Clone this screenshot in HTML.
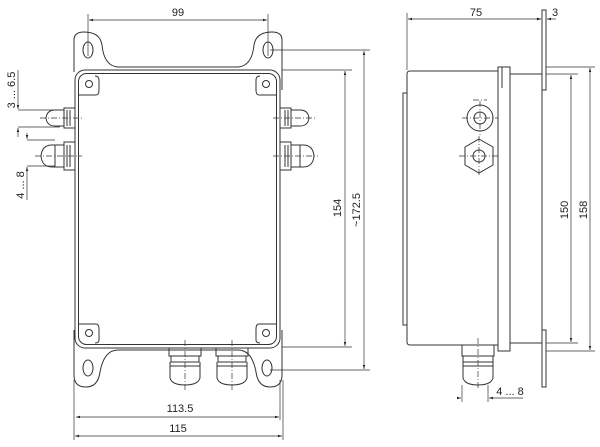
<!DOCTYPE html>
<html><head><meta charset="utf-8"><style>
html,body{margin:0;padding:0;background:#fff;}
svg{display:block;font-family:"Liberation Sans",Arial,sans-serif;}
text{font-size:11px;fill:#222;}
</style></head><body>
<svg width="600" height="447" viewBox="0 0 600 447" xmlns="http://www.w3.org/2000/svg">
<defs>
<marker id="a" viewBox="0 0 10 10" refX="10" refY="5" markerWidth="6" markerHeight="6" orient="auto-start-reverse"><path d="M0,2 L10,5 L0,8 z" fill="#222"/></marker>
</defs>
<g stroke="#333" fill="none" stroke-width="1">
<!-- FRONT VIEW -->
<!-- top bracket -->
<path d="M74,72 L74,40 Q74,32 84,32 Q100,32 102,45 Q104,66 118,67 L238,67 Q252,66 254,45 Q256,32 272,32 Q282,32 282,40 L282,90"/>
<ellipse cx="88" cy="50" rx="5" ry="8"/>
<ellipse cx="268" cy="50" rx="5" ry="8"/>
<!-- bottom bracket -->
<path d="M74,330 L74,375 Q74,387 86,387 Q98,387 100,372 Q104,350 118,350 L238,350 Q252,350 256,372 Q258,387 270,387 Q282,387 282,375 L282,330"/>
<ellipse cx="88" cy="368" rx="5" ry="8"/>
<ellipse cx="267" cy="368" rx="5" ry="8"/>
<!-- box -->
<rect x="75" y="70" width="205" height="278" rx="10"/>
<rect x="78.5" y="73.5" width="198" height="271" rx="8"/>
<!-- corner bosses -->
<path d="M79,95 L96,95 Q99,95 99,90 L99,80 Q99,76 95,76"/><circle cx="89" cy="84" r="3.5"/>
<path d="M276,95 L259,95 Q256,95 256,90 L256,80 Q256,76 260,76"/><circle cx="266" cy="84" r="3.5"/>
<path d="M79,324 L96,324 Q99,324 99,329 L99,340 Q99,343 95,343"/><circle cx="89" cy="333" r="3.5"/>
<path d="M276,324 L259,324 Q256,324 256,329 L256,340 Q256,343 260,343"/><circle cx="266" cy="333" r="3.5"/>
<!-- left glands -->
<path d="M75,108 L64,108 L64,128 L75,128 M64,110 L55,110 Q47,110 46,118 Q47,126 55,126 L64,126 M67,110 L67,126 M70,110 L70,126"/>
<path d="M75,142 L64,142 L64,170 L75,170 M64,145 L52,145 Q42,145 41,156 Q42,167 52,167 L64,167 M67,145 L67,167 M70,145 L70,167 M55,145 L55,167"/>
<!-- right glands -->
<path d="M280,108 L291,108 L291,128 L280,128 M291,110 L300,110 Q308,110 309,118 Q308,126 300,126 L291,126 M288,110 L288,126 M285,110 L285,126"/>
<path d="M280,142 L291,142 L291,170 L280,170 M291,145 L303,145 Q313,145 314,156 Q313,167 303,167 L291,167 M288,145 L288,167 M285,145 L285,167 M300,145 L300,167"/>
<!-- bottom glands -->
<path d="M169,348 L169,356 L201,356 L201,348 M171,356 L171,362 L199,362 L199,356 M170,362 L170,378 Q172,385 185,385 Q198,385 200,378 L200,362 M170,366 L200,366"/>
<path d="M216,348 L216,356 L248,356 L248,348 M218,356 L218,362 L246,362 L246,356 M217,362 L217,378 Q219,385 232,385 Q245,385 247,378 L247,362 M217,366 L247,366"/>
</g>
<g stroke="#333" stroke-width="0.7" stroke-dasharray="6,2,1,2" fill="none">
<path d="M40,118 L82,118 M35,156 L82,156 M273,118 L315,118 M273,156 L318,156 M185,340 L185,390 M232,340 L232,390"/>
<path d="M473,100 L487,100 M480,101 L480,135 M462,118 L498,118 M459,156 L499,156 M479,136 L479,176 M478,338 L478,390"/>
</g>
<!-- dimension lines -->
<g stroke="#333" stroke-width="0.7" fill="none">
<path d="M88,14 L88,56 M268,14 L268,56"/>
<path d="M89,20 L267,20" marker-start="url(#a)" marker-end="url(#a)"/>
<path d="M270,50 L370,50 M282,70 L352,70 M282,347 L352,347 M270,370 L370,370"/>
<path d="M345,71 L345,346" marker-start="url(#a)" marker-end="url(#a)"/>
<path d="M364,51 L364,369" marker-start="url(#a)" marker-end="url(#a)"/>
<path d="M74,380 L74,440 M280,380 L280,420 M283,380 L283,440"/>
<path d="M76,417 L279,417" marker-start="url(#a)" marker-end="url(#a)"/>
<path d="M75,436 L282,436" marker-start="url(#a)" marker-end="url(#a)"/>
<path d="M18,110 L60,110 M18,127 L60,127"/>
<path d="M18,70 L18,109" marker-end="url(#a)"/>
<path d="M18,137 L18,128" marker-end="url(#a)"/>
<path d="M27,140 L55,140 M27,166 L55,166"/>
<path d="M27,133 L27,139" marker-end="url(#a)"/>
<path d="M27,200 L27,167" marker-end="url(#a)"/>
</g>
<text x="178" y="16" text-anchor="middle">99</text>
<text x="180" y="412" text-anchor="middle">113.5</text>
<text x="178" y="432" text-anchor="middle">115</text>
<text transform="translate(15,90) rotate(-90)" text-anchor="middle">3 ... 6.5</text>
<text transform="translate(24,185) rotate(-90)" text-anchor="middle">4 ... 8</text>
<text transform="translate(341,208) rotate(-90)" text-anchor="middle">154</text>
<text transform="translate(360,210) rotate(-90)" text-anchor="middle">~172.5</text>
<!-- SIDE VIEW -->
<g stroke="#333" stroke-width="1" fill="none">
<path d="M498,71 L410,71 Q407,71 407,74 L407,342 Q407,345 410,345 L498,345"/>
<path d="M407,93 L403,93 L403,325 L407,325"/>
<rect x="498" y="67" width="12" height="284"/>
<path d="M498,67 L498,351 M502,67 L502,88"/>
<path d="M510,74 L542,74 M510,343 L542,343"/>
<rect x="542" y="10" width="4" height="80"/>
<rect x="542" y="330" width="4" height="57"/>
<path d="M542,90 L542,330"/>
<circle cx="480" cy="118" r="13"/><circle cx="480" cy="118" r="6"/>
<path d="M479,139 L493,147 L493,165 L479,173 L465,165 L465,147 Z"/><circle cx="479" cy="156" r="6"/>
<path d="M462,345 L462,356 L494,356 L494,345 M463,356 L463,362 L493,362 L493,356 M463,362 L463,378 Q465,385 478,385 Q491,385 493,378 L493,362 M463,366 L493,366"/>
</g>
<g stroke="#333" stroke-width="0.7" fill="none">
<path d="M407,13 L407,70 M542,13 L542,10 M546,13 L546,10"/>
<path d="M408,19 L541,19" marker-start="url(#a)" marker-end="url(#a)"/>
<path d="M536,19 L541,19" marker-end="url(#a)"/>
<path d="M556,19 L547,19" marker-end="url(#a)"/>
<path d="M546,67 L595,67 M546,74 L578,74 M546,343 L578,343 M546,351 L595,351"/>
<path d="M571,75 L571,342" marker-start="url(#a)" marker-end="url(#a)"/>
<path d="M590,68 L590,350" marker-start="url(#a)" marker-end="url(#a)"/>
<path d="M462,385 L462,402 M488,385 L488,402"/>
<path d="M460,398 L461,398" marker-end="url(#a)"/>
<path d="M523,398 L489,398" marker-end="url(#a)"/>
</g>
<text x="476" y="16" text-anchor="middle">75</text>
<text x="555" y="16" text-anchor="middle">3</text>
<text transform="translate(568,210) rotate(-90)" text-anchor="middle">150</text>
<text transform="translate(587,210) rotate(-90)" text-anchor="middle">158</text>
<text x="510" y="395" text-anchor="middle">4 ... 8</text>
</svg>
</body></html>
